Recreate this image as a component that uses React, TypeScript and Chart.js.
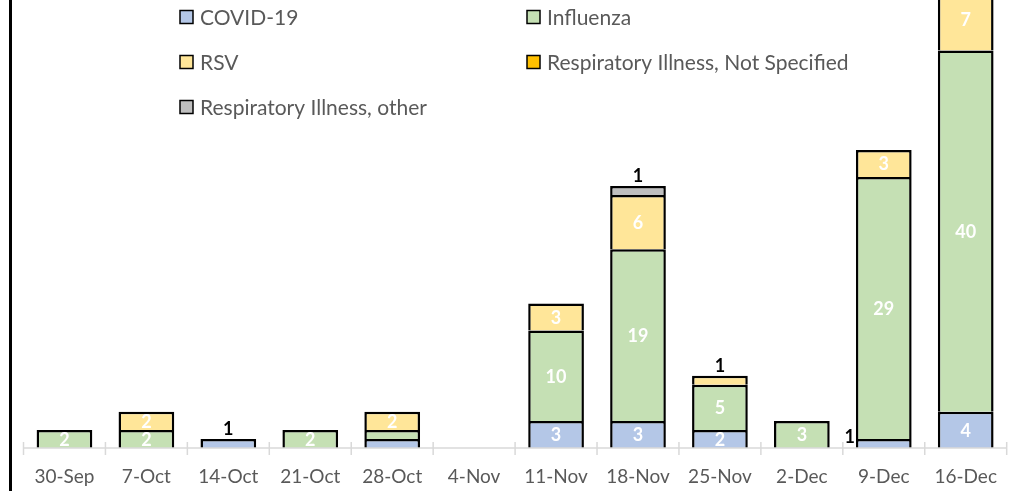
import React, { useEffect, useRef } from 'react';
import { Chart, registerables } from 'chart.js';

Chart.register(...registerables);

const categories = ['30-Sep', '7-Oct', '14-Oct', '21-Oct', '28-Oct', '4-Nov', '11-Nov', '18-Nov', '25-Nov', '2-Dec', '9-Dec', '16-Dec'];
const covid = [0, 0, 1, 0, 1, 0, 3, 3, 2, 0, 1, 4];
const influenza = [2, 2, 0, 2, 1, 0, 10, 19, 5, 3, 29, 40];
const rsv = [0, 2, 0, 0, 2, 0, 3, 6, 1, 0, 3, 7];
const notSpecified = [0, 0, 0, 0, 0, 0, 0, 0, 0, 0, 0, 0];
const other = [0, 0, 0, 0, 0, 0, 0, 1, 0, 0, 0, 0];
const seriesNames = ['COVID-19', 'Influenza', 'RSV', 'Respiratory Illness, Not Specified', 'Respiratory Illness, other'];
const seriesColors = ['#B4C7E7', '#C5E0B4', '#FFE699', '#FFC000', '#BFBFBF'];
// small segments whose value label sits outside the bar: [category index, series index, side]
const outsideLabels: [number, number, string][] = [[2, 0, 'top'], [7, 4, 'top'], [8, 2, 'top'], [10, 0, 'left']];
const yMax = 49.6;

const FONT = 'Lato, "Open Sans", sans-serif';

const customPlugin = {
  id: 'custom',
  afterDatasetsDraw(chart: any) {
    const ctx = chart.ctx;
    const area = chart.chartArea;
    ctx.save();
    // value labels
    chart.data.datasets.forEach((ds: any, di: number) => {
      const meta = chart.getDatasetMeta(di);
      meta.data.forEach((el: any, i: number) => {
        const v = ds.data[i];
        if (v >= 2) {
          ctx.fillStyle = '#FFFFFF';
          ctx.font = `bold 18px ${FONT}`;
          ctx.textAlign = 'center';
          ctx.textBaseline = 'middle';
          ctx.fillText(String(v), el.x, (el.y + el.base) / 2 + 1);
        }
      });
    });
    outsideLabels.forEach(([ci, si, side]) => {
      const el = chart.getDatasetMeta(si).data[ci];
      const v = chart.data.datasets[si].data[ci];
      ctx.fillStyle = '#000000';
      ctx.font = `bold 18px ${FONT}`;
      ctx.textBaseline = 'alphabetic';
      if (side === 'top') {
        ctx.textAlign = 'center';
        ctx.fillText(String(v), el.x, el.y - 4);
      } else {
        ctx.textAlign = 'right';
        ctx.fillText(String(v), el.x - el.width / 2 - 1, el.base - 5);
      }
    });
    // category axis line with crossing tick marks
    const xs = chart.scales.x;
    const y0 = chart.scales.y.getPixelForValue(0);
    ctx.strokeStyle = '#D9D9D9';
    ctx.lineWidth = 1.5;
    ctx.beginPath();
    ctx.moveTo(area.left, y0);
    ctx.lineTo(area.right, y0);
    const n = categories.length;
    for (let i = 0; i <= n; i++) {
      const x = xs.left + (i * (xs.right - xs.left)) / n;
      ctx.moveTo(x, y0 - 6);
      ctx.lineTo(x, y0 + 7);
    }
    ctx.stroke();
    ctx.restore();
  },
  afterDraw(chart: any) {
    const ctx = chart.ctx;
    ctx.save();
    // left border line
    ctx.strokeStyle = '#000000';
    ctx.lineWidth = 3;
    ctx.beginPath();
    ctx.moveTo(10.5, 0);
    ctx.lineTo(10.5, chart.height);
    ctx.stroke();
    // legend
    const cols = [180, 527];
    const rowY = [17, 62, 107];
    chart.data.datasets.forEach((ds: any, i: number) => {
      const x = cols[i % 2];
      const y = rowY[Math.floor(i / 2)];
      ctx.fillStyle = ds.backgroundColor;
      ctx.fillRect(x, y - 6.5, 13, 13);
      ctx.strokeStyle = '#000000';
      ctx.lineWidth = 1.5;
      ctx.strokeRect(x, y - 6.5, 13, 13);
      ctx.fillStyle = '#595959';
      ctx.font = `21px ${FONT}`;
      ctx.textAlign = 'left';
      ctx.textBaseline = 'middle';
      ctx.fillText(ds.label, x + 20, y + 1);
    });
    ctx.restore();
  },
};

export default function App() {
  const ref = useRef<HTMLCanvasElement>(null);
  useEffect(() => {
    if (!ref.current) return;
    const seriesData = [covid, influenza, rsv, notSpecified, other];
    const chart = new Chart(ref.current, {
      type: 'bar',
      data: {
        labels: categories,
        datasets: seriesData.map((d, i) => ({
          label: seriesNames[i],
          data: d,
          backgroundColor: seriesColors[i],
          borderColor: '#000000',
          borderWidth: 2.5,
          categoryPercentage: 1,
          barPercentage: 0.68,
        })),
      },
      options: {
        animation: false,
        responsive: false,
        layout: { padding: { left: 23.5, right: 0.5, top: 0, bottom: 0 } },
        plugins: { legend: { display: false }, tooltip: { enabled: false } },
        scales: {
          x: {
            stacked: true,
            grid: { display: false, drawTicks: false },
            border: { display: false },
            ticks: { color: '#595959', font: { family: FONT, size: 19 }, padding: 17, maxRotation: 0, autoSkip: false },
            afterFit: (s: any) => { s.height = 43; },
          },
          y: {
            stacked: true,
            display: false,
            min: 0,
            max: yMax,
          },
        },
      },
      plugins: [customPlugin],
    });
    return () => chart.destroy();
  }, []);
  return (
    <div style={{ position: 'fixed', left: 0, top: 0, width: 1014, height: 491, background: '#fff' }}>
      <canvas ref={ref} width={1014} height={491} />
    </div>
  );
}
